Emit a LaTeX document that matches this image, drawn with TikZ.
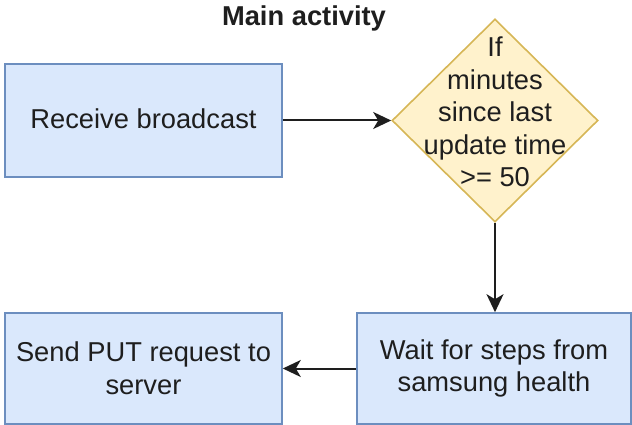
\documentclass[tikz,border=0pt]{standalone}
\usepackage{fontspec}
\setmainfont{Liberation Sans}
\usetikzlibrary{shapes.geometric,arrows.meta}
\definecolor{boxfill}{HTML}{DAE8FC}
\definecolor{boxline}{HTML}{6C8EBF}
\definecolor{decfill}{HTML}{FFF2CC}
\definecolor{decline}{HTML}{D6B656}
\definecolor{ink}{HTML}{1E1E1E}
\tikzset{
  lbl/.style={font=\fontsize{27.3}{32.6}\selectfont, text=ink, align=center, inner sep=0pt},
  procbox/.style={rectangle, draw=boxline, fill=boxfill, line width=1.6pt, inner sep=0pt},
  decision/.style={diamond, draw=decline, fill=decfill, line width=1.6pt, inner sep=0pt, aspect=1},
  flow/.style={draw=ink, line width=2pt, -{Stealth[length=18pt,width=17pt,inset=5pt]}}
}
\begin{document}
\begin{tikzpicture}[x=1pt,y=-1pt]
  \useasboundingbox (0,0) rectangle (632,425);

  % title
  \node[lbl, font=\fontsize{27.3}{32.6}\selectfont\bfseries] (title) at (304,18) {Main activity};

  % process boxes
  \node[procbox, minimum width=277pt, minimum height=113pt] (recv) at (143.5,120.5) {};
  \node[lbl] (recvtxt) at (143.5,119) {Receive broadcast};

  \node[procbox, minimum width=277pt, minimum height=111pt] (send) at (143.5,368.5) {};
  \node[lbl] (sendtxt) at (143.5,368.5) {Send PUT request to\\server};

  \node[procbox, minimum width=274pt, minimum height=111pt] (wait) at (494,368.5) {};
  \node[lbl] (waittxt) at (494,368.5) {Wait for steps from\\samsung health};

  % decision
  \node[decision, minimum width=206pt, minimum height=203pt] (check) at (495,120.5) {};
  \node[lbl] (checktxt) at (495,112) {If\\minutes\\since last\\update time\\>= 50};

  % connectors
  \draw[flow] (recv.east) -- (check.west);
  \draw[flow] (check.south) -- (check.south |- wait.north);
  \draw[flow] (wait.west) -- (send.east);
\end{tikzpicture}
\end{document}
